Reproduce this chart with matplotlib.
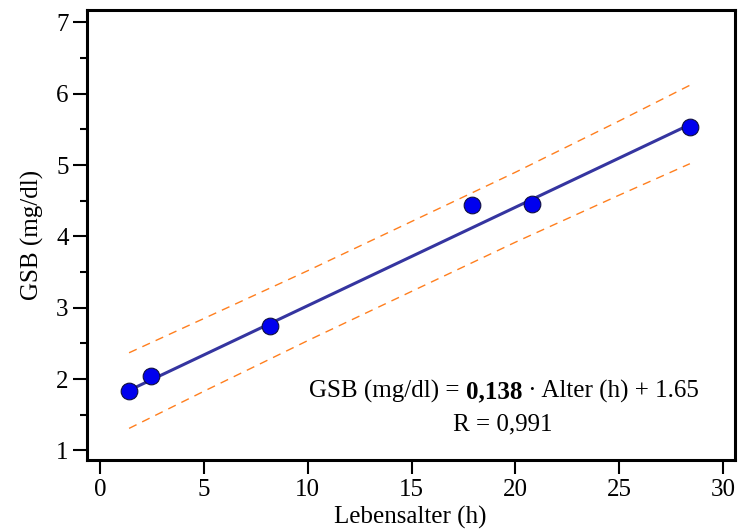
import numpy as np
import matplotlib
matplotlib.use('Agg')
import matplotlib.pyplot as plt
from matplotlib.ticker import MultipleLocator

# Messwerte
alter = [1.4, 2.45, 8.2, 17.9, 20.8, 28.4]
gsb = [1.84, 2.04, 2.75, 4.44, 4.45, 5.53]

# Regressionsgerade (Endpunkte)
fit_x = [1.4, 28.4]
fit_y = [1.843, 5.569]

# Vorhersageband
band_x = [1.4, 5, 10, 15, 20, 25, 28.4]
band_upper = [2.37, 2.85, 3.52, 4.21, 4.90, 5.62, 6.12]
band_lower = [1.31, 1.83, 2.54, 3.23, 3.92, 4.58, 5.02]

plt.rcParams['font.family'] = ['Liberation Serif', 'DejaVu Serif']

fig = plt.figure(figsize=(7.38, 5.31), dpi=100)
ax = fig.add_axes([0.1175, 0.1328, 0.8778, 0.8484])

# Band, Gerade, Punkte
ax.plot(band_x, band_upper, color='#ff7f1e', lw=1.0, dashes=(6, 4.5))
ax.plot(band_x, band_lower, color='#ff7f1e', lw=1.0, dashes=(6, 4.5))
ax.plot(fit_x, fit_y, color='#3535a0', lw=2.2, zorder=3)
ax.plot(alter, gsb, 'o', ms=12, mfc='#0000ee', mec='#101040', mew=0.8, zorder=4)

ax.set_xlim(-0.64, 30.55)
ax.set_ylim(0.86, 7.175)
ax.xaxis.set_major_locator(MultipleLocator(5))
ax.yaxis.set_major_locator(MultipleLocator(1))
ax.yaxis.set_minor_locator(MultipleLocator(0.5))

for s in ax.spines.values():
    s.set_linewidth(2.2)
ax.tick_params(which='major', direction='out', length=10, width=1.5, labelsize=18, pad=3)
ax.tick_params(which='minor', direction='out', length=5, width=1.5)

ax.set_xlabel('Lebensalter (h)', fontsize=18, labelpad=4)
ax.set_ylabel('GSB (mg/dl)', fontsize=18, labelpad=9)

# Gleichung mit fettem Koeffizienten
t1 = ax.text(10.07, 1.744, 'GSB (mg/dl) = ', fontsize=18, va='baseline')
t2 = ax.annotate('0,138', xy=(1, 0), xycoords=t1, fontsize=18, fontweight='bold', va='bottom')
t3 = ax.annotate(' \u00b7 Alter (h) + 1.65', xy=(1, 0), xycoords=t2, fontsize=18, va='bottom')
ax.text(19.41, 1.281, 'R = 0,991', fontsize=18, ha='center', va='baseline')

plt.savefig('out.png', dpi=100)
